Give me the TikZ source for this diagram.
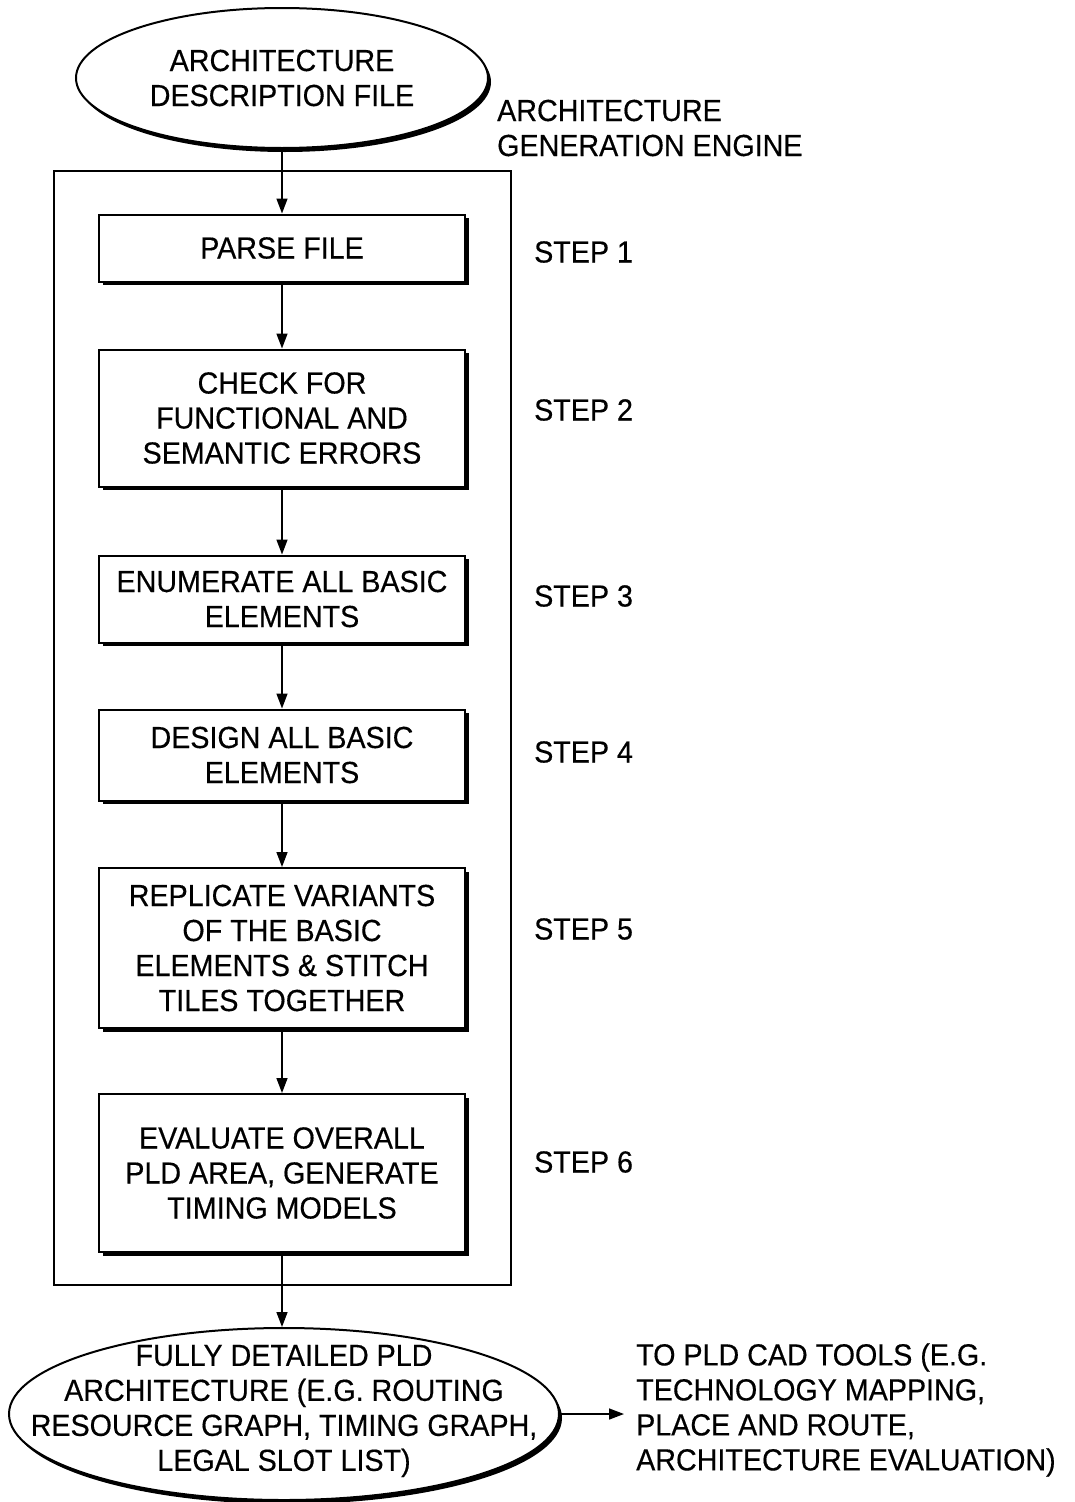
\documentclass[tikz,border=0pt]{standalone}
\usepackage{fontspec}
\setmainfont{Liberation Sans}[FakeStretch=0.94,FakeBold=0.4]
\usetikzlibrary{shapes.geometric,arrows.meta,shadows}
\begin{document}
\begin{tikzpicture}[x=1pt,y=-1pt,
  every node/.style={font=\fontsize{30.5}{35}\selectfont},
  stepbox/.style={draw, line width=2pt, rectangle, fill=white, minimum width=366pt, inner sep=0pt, align=center,
    drop shadow={shadow xshift=3.5pt, shadow yshift=-3.5pt, fill=black, opacity=1}},
  oval/.style={draw, line width=2pt, ellipse, fill=white, inner sep=0pt,
    drop shadow={shadow xshift=3pt, shadow yshift=-4pt, fill=black, opacity=1}},
  lbl/.style={anchor=west, align=left, inner sep=0pt},
  flow/.style={line width=1.5pt, -{Triangle[length=15pt,width=11pt]}},
  frame/.style={draw, line width=1.6pt, rectangle, inner sep=0pt}
]
\useasboundingbox (0,0) rectangle (1074,1502);
\fill[white] (0,0) rectangle (1074,1502);

\node[frame, minimum width=457pt, minimum height=1114pt] (frame) at (282.5,728) {};

\node[oval, minimum width=412pt, minimum height=140pt] (adf) at (282,78) {};
\node[align=center, inner sep=0pt] (adft) at (282,78) {ARCHITECTURE\\DESCRIPTION FILE};

\node[lbl] (age) at (497,128) {ARCHITECTURE\\GENERATION ENGINE};

\node[stepbox, minimum height=67pt] (s1) at (282,248) {PARSE FILE};
\node[stepbox, minimum height=137pt] (s2) at (282,418) {CHECK FOR\\FUNCTIONAL AND\\SEMANTIC ERRORS};
\node[stepbox, minimum height=87pt] (s3) at (282,599) {ENUMERATE ALL BASIC\\ELEMENTS};
\node[stepbox, minimum height=91pt] (s4) at (282,755) {DESIGN ALL BASIC\\ELEMENTS};
\node[stepbox, minimum height=160pt] (s5) at (282,948) {REPLICATE VARIANTS\\OF THE BASIC\\ELEMENTS \& STITCH\\TILES TOGETHER};
\node[stepbox, minimum height=158pt] (s6) at (282,1173) {EVALUATE OVERALL\\PLD AREA, GENERATE\\TIMING MODELS};

\node[lbl] (l1) at (534,252) {STEP 1};
\node[lbl] (l2) at (534,410) {STEP 2};
\node[lbl] (l3) at (534,596) {STEP 3};
\node[lbl] (l4) at (534,752) {STEP 4};
\node[lbl] (l5) at (534,929) {STEP 5};
\node[lbl] (l6) at (534,1162) {STEP 6};

\node[oval, minimum width=550pt, minimum height=172pt] (fd) at (284,1414) {};
\node[align=center, inner sep=0pt] (fdt) at (284,1411) {FULLY DETAILED PLD\\ARCHITECTURE (E.G. ROUTING\\RESOURCE GRAPH, TIMING GRAPH,\\LEGAL SLOT LIST)};

\node[lbl] (cad) at (636,1410) {TO PLD CAD TOOLS (E.G.\\TECHNOLOGY MAPPING,\\PLACE AND ROUTE,\\ARCHITECTURE EVALUATION)};

\draw[flow] (adf.south) -- (s1.north);
\draw[flow] (s1.south) -- (s2.north);
\draw[flow] (s2.south) -- (s3.north);
\draw[flow] (s3.south) -- (s4.north);
\draw[flow] (s4.south) -- (s5.north);
\draw[flow] (s5.south) -- (s6.north);
\draw[flow] (s6.south) -- (s6.south |- fd.north);
\draw[flow] (fd.east) -- ([xshift=-12pt]fd.east -| cad.west);
\end{tikzpicture}
\end{document}
